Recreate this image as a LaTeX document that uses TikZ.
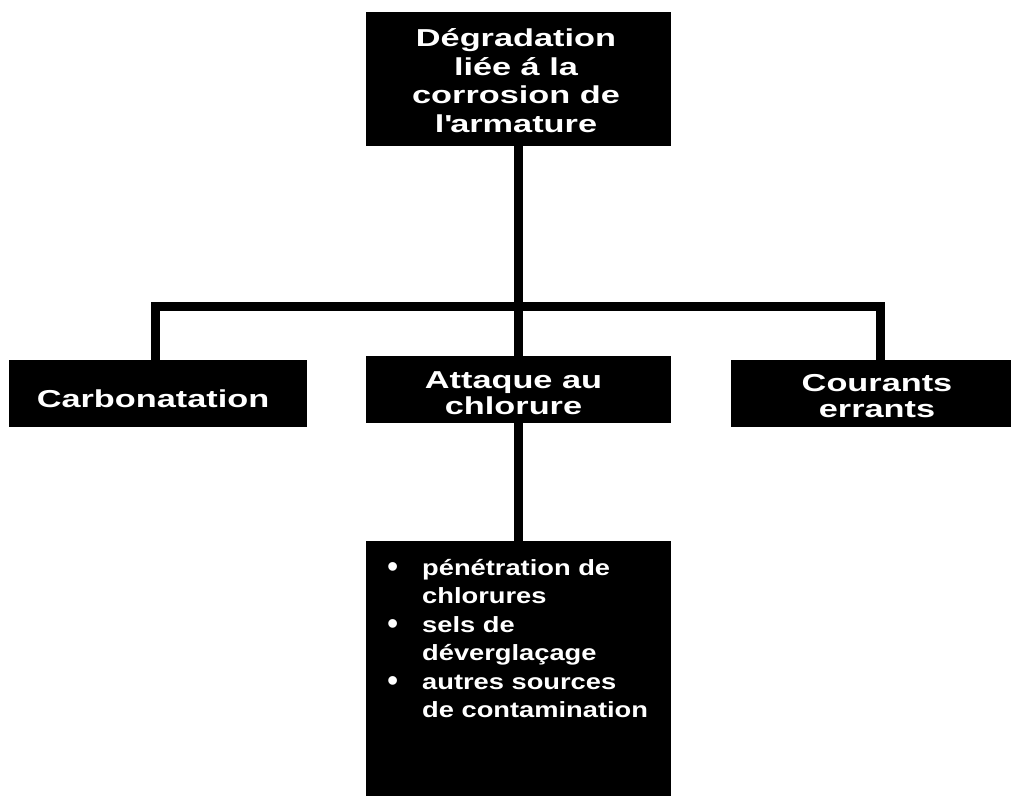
\documentclass[tikz,border=0pt]{standalone}
\usepackage{fontspec}
\setmainfont{Liberation Sans}
\newfontfamily\titlefont[FakeStretch=1.4]{Liberation Sans}
\newfontfamily\itemfont[FakeStretch=1.24]{Liberation Sans}
\newcommand\blt{\raisebox{-2.5pt}{\normalfont\fontsize{32}{28.5}\selectfont\textbullet}}
\begin{document}
\begin{tikzpicture}[x=1pt,y=-1pt,
  box/.style={rectangle, fill=black, draw=none, inner sep=0pt, outer sep=0pt},
  title/.style={text=white, align=center, inner sep=0pt,
    font=\titlefont\bfseries\fontsize{24.5}{26}\selectfont},
  link/.style={line width=9pt, draw=black, line join=miter}]
\useasboundingbox (0,0) rectangle (1011,795);
\clip (0,0) rectangle (1011,795);
% boxes
\node[box, minimum width=305pt, minimum height=134pt] (top) at (518.5,79) {};
\node[box, minimum width=298pt, minimum height=67pt] (carb) at (158,393.5) {};
\node[box, minimum width=305pt, minimum height=67pt] (att) at (518.5,389.5) {};
\node[box, minimum width=292pt, minimum height=67pt] (cour) at (877,393.5) {};
\node[box, minimum width=305pt, minimum height=262pt] (bot) at (518.5,672) {};
% connectors
\coordinate (hl) at (155,306);
\coordinate (hr) at (880,306);
\draw[link] (top.south) -- (att.north);
\draw[link] (att.south) -- (bot.north);
\draw[link] (carb.north -| hl) -- (hl) -- (hr) -- (cour.north -| hr);
% texts
\node[title, font=\titlefont\bfseries\fontsize{24.5}{28.5}\selectfont] (topT) at (516,80.5)
  {Dégradation\\liée á la\\corrosion de\\l\textquotesingle armature};
\node[title] (carbT) at (153,399) {Carbonatation};
\node[title] (attT) at (513.5,393.5) {Attaque au\\chlorure};
\node[title] (courT) at (877,396.5) {Courants\\errants};
\node[anchor=north west, inner sep=0pt, text=white,
  font=\itemfont\bfseries\fontsize{22}{28.5}\selectfont] (list) at (387,555)
  {\begin{tabular}{@{}p{35pt}@{}l@{}}
   \blt & pénétration de\\
        & chlorures\\
   \blt & sels de\\
        & déverglaçage\\
   \blt & autres sources\\
        & de contamination
   \end{tabular}};
\end{tikzpicture}
\end{document}
